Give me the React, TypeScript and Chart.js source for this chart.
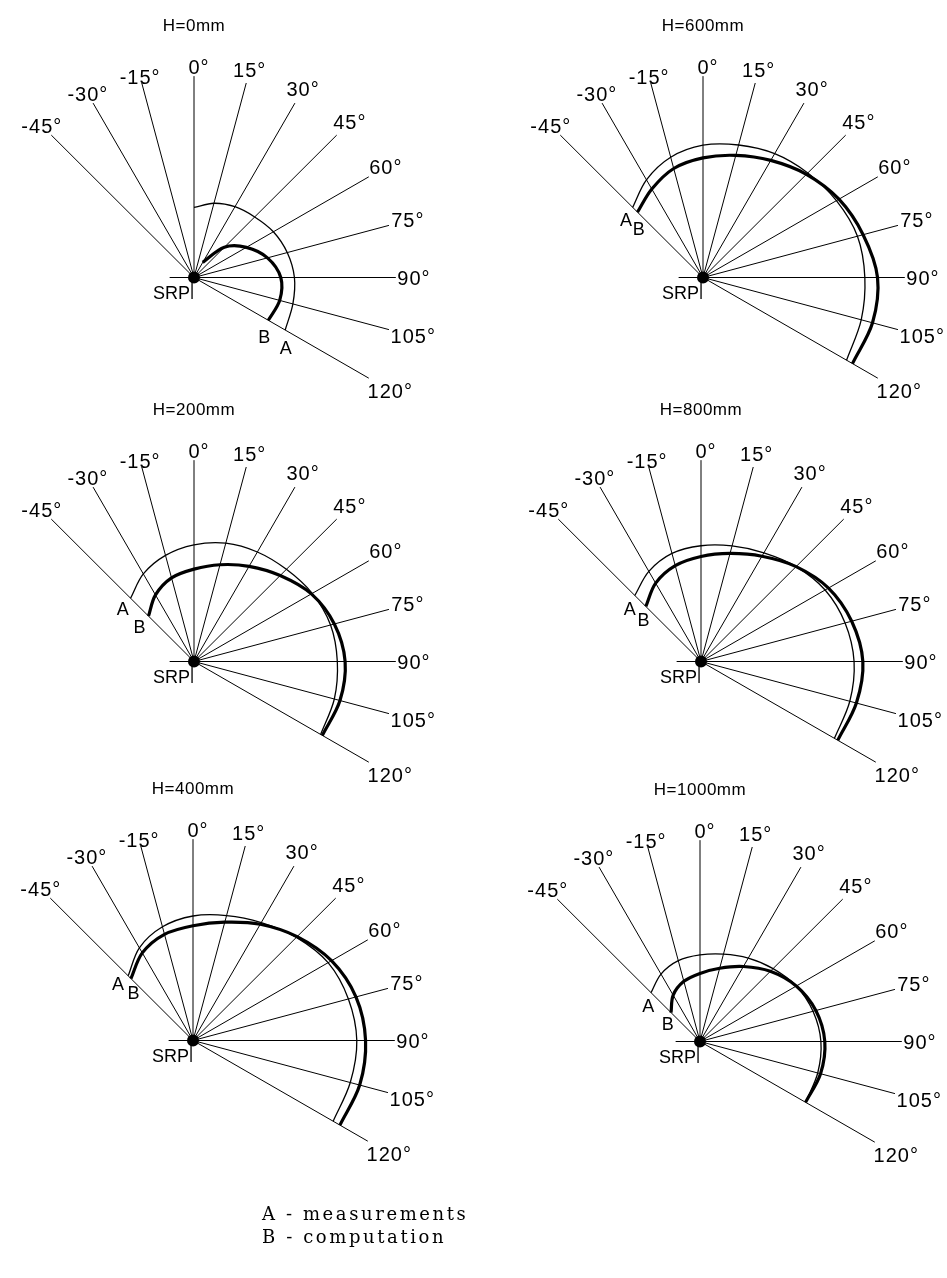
import React, { useEffect, useRef } from "react";
import { Chart, registerables } from "chart.js";

Chart.register(...registerables);

// ---------- data ----------
const ANGLES = [-45, -30, -15, 0, 15, 30, 45, 60, 75, 90, 105, 120];
const ANGLE_LABELS = ["-45°", "-30°", "-15°", "0°", "15°", "30°", "45°", "60°", "75°", "90°", "105°", "120°"];
const HEIGHT_LABELS = ["H=0mm", "H=200mm", "H=400mm", "H=600mm", "H=800mm", "H=1000mm"];
const LEGEND_LINES = ["A - measurements", "B - computation"];

// radial distance along each ray (ray length = 207), null = no value
const A_H0 = [null, null, null, 72, 79, 84, 88, 94, 99, 103, 105, 108];
const B_H0 = [null, null, null, null, null, 18, 44, 62, 78, 89, 91, 88];
const A_H200 = [92, 104, 113, 120, 126, 130, 134, 140, 145, 147, 149, 150];
const B_H200 = [66, 79, 89, 95, 103, 113, 125, 139, 149, 155, 155, 152];
const A_H400 = [94, 110, 121, 128, 133, 140, 150, 160, 165, 168, 167, 166];
const B_H400 = [90, 104, 113, 118, 126, 138, 151, 164, 173, 177, 177, 174];
const A_H600 = [102, 116, 128, 136, 141, 147, 152, 158, 164, 166, 168, 170];
const B_H600 = [95, 105, 116, 123, 130, 139, 150, 161, 170, 179, 180, 177];
const A_H800 = [96, 107, 115, 119, 123, 129, 138, 147, 153, 157, 158, 158];
const B_H800 = [80, 93, 102, 108, 115, 125, 138, 151, 160, 166, 165, 162];
const A_H1000 = [71, 80, 86, 89, 93, 99, 106, 114, 120, 124, 125, 125];
const B_H1000 = [42, 55, 64, 70, 78, 89, 102, 114, 123, 128, 128, 125];

// ---------- layout ----------
const RAY_LENGTH = 207;
const LEFT_EXT = 25;
const CW = 480;
const CH = 440;
const X_MIN = -200;
const Y_MAX = 275;

type PanelCfg = {
  title: number;
  a: (number | null)[];
  b: (number | null)[];
  ox: number;
  oy: number;
  posA: [number, number];
  posB: [number, number];
};

const PANELS: PanelCfg[] = [
  { title: 0, a: A_H0, b: B_H0, ox: 193, oy: 279, posA: [94, -72], posB: [72, -61] },
  { title: 3, a: A_H600, b: B_H600, ox: 702, oy: 279, posA: [-79, 60], posB: [-66, 50] },
  { title: 1, a: A_H200, b: B_H200, ox: 193, oy: 663, posA: [-73, 54], posB: [-56, 36] },
  { title: 4, a: A_H800, b: B_H800, ox: 700, oy: 663, posA: [-73, 55], posB: [-59, 43] },
  { title: 2, a: A_H400, b: B_H400, ox: 192, oy: 1042, posA: [-77, 59], posB: [-61, 49] },
  { title: 5, a: A_H1000, b: B_H1000, ox: 699, oy: 1043, posA: [-53, 37], posB: [-33, 19] },
];

const SANS = '"Liberation Sans", Arial, sans-serif';
const rad = (a: number) => (a * Math.PI) / 180;

function toPoints(vals: (number | null)[]) {
  const pts: { x: number; y: number }[] = [];
  ANGLES.forEach((a, i) => {
    const r = vals[i];
    if (r == null) return;
    pts.push({ x: r * Math.sin(rad(a)), y: r * Math.cos(rad(a)) });
  });
  return pts;
}

function Panel({ cfg }: { cfg: PanelCfg }) {
  const ref = useRef<HTMLCanvasElement>(null);
  useEffect(() => {
    const canvas = ref.current!;
    const rays = ANGLES.map((a) => ({
      data: [
        { x: a === 90 ? -LEFT_EXT : 0, y: 0 },
        { x: RAY_LENGTH * Math.sin(rad(a)), y: RAY_LENGTH * Math.cos(rad(a)) },
      ],
      borderColor: "#000",
      borderWidth: 1,
      pointRadius: 0,
      tension: 0,
      fill: false,
    }));
    const tick = {
      data: [
        { x: -2, y: 0 },
        { x: -2, y: -22 },
      ],
      borderColor: "#000",
      borderWidth: 1.3,
      pointRadius: 0,
      tension: 0,
      fill: false,
    };
    const curveA = {
      data: toPoints(cfg.a),
      borderColor: "#000",
      borderWidth: 1.3,
      pointRadius: 0,
      tension: 0.33,
      fill: false,
    };
    const curveB = {
      data: toPoints(cfg.b),
      borderColor: "#000",
      borderWidth: 3.2,
      pointRadius: 0,
      tension: 0.33,
      fill: false,
    };
    const dot = {
      data: [{ x: 0, y: 0 }],
      showLine: false,
      pointRadius: 6,
      pointBackgroundColor: "#000",
      pointBorderWidth: 0,
      borderColor: "#000",
    };

    const textPlugin = {
      id: "polarText",
      afterDatasetsDraw(chart: any) {
        const ctx = chart.ctx as CanvasRenderingContext2D;
        const xs = chart.scales.x;
        const ys = chart.scales.y;
        const P = (x: number, y: number) => [xs.getPixelForValue(x), ys.getPixelForValue(y)];
        ctx.save();
        ctx.fillStyle = "#000";
        ctx.textBaseline = "alphabetic";
        // ray labels
        ctx.font = `20px ${SANS}`;
        (ctx as any).letterSpacing = "1px";
        ctx.textAlign = "center";
        ANGLES.forEach((a, i) => {
          const txt = ANGLE_LABELS[i];
          const w = ctx.measureText(txt).width;
          const s = Math.sin(rad(a));
          const c = Math.cos(rad(a));
          let d = RAY_LENGTH + 2 + (w / 2) * Math.abs(s) + 7.5 * Math.abs(c);
          if (a < 0) d -= 8;
          const [px, py] = P(d * s, d * c);
          ctx.fillText(txt, px + (a === 0 ? 5 : 0), py + 7);
        });
        // title
        ctx.font = `17px ${SANS}`;
        (ctx as any).letterSpacing = "0.5px";
        const [tx, ty] = P(0, 260);
        ctx.fillText(HEIGHT_LABELS[cfg.title], tx, ty + 6);
        // SRP
        ctx.font = `18px ${SANS}`;
        (ctx as any).letterSpacing = "0px";
        ctx.textAlign = "right";
        const [sx, sy] = P(-4, -22);
        ctx.fillText("SRP", sx, sy);
        // A / B
        ctx.textAlign = "center";
        const [ax, ay] = P(cfg.posA[0], cfg.posA[1]);
        ctx.fillText("A", ax, ay + 6.5);
        const [bx, by] = P(cfg.posB[0], cfg.posB[1]);
        ctx.fillText("B", bx, by + 6.5);
        ctx.restore();
      },
    };

    const chart = new Chart(canvas, {
      type: "line",
      data: { datasets: [...rays, tick, curveA, curveB, dot] as any },
      options: {
        animation: false,
        responsive: false,
        maintainAspectRatio: false,
        events: [],
        layout: { padding: 0 },
        plugins: {
          legend: { display: false },
          tooltip: { enabled: false },
          title: { display: false },
        },
        scales: {
          x: { type: "linear", display: false, min: X_MIN, max: X_MIN + CW },
          y: { type: "linear", display: false, min: Y_MAX - CH, max: Y_MAX },
        },
      },
      plugins: [textPlugin],
    });
    return () => chart.destroy();
  }, [cfg]);
  return (
    <canvas
      ref={ref}
      width={CW}
      height={CH}
      style={{
        position: "absolute",
        left: cfg.ox + X_MIN,
        top: cfg.oy - Y_MAX,
        width: CW,
        height: CH,
      }}
    />
  );
}

export default function App() {
  return (
    <div
      style={{
        position: "absolute",
        left: 0,
        top: 0,
        width: 947,
        height: 1278,
        overflow: "hidden",
        background: "#fff",
      }}
    >
      {PANELS.map((p, i) => (
        <Panel key={i} cfg={p} />
      ))}
      <div
        style={{
          position: "absolute",
          left: 262,
          top: 1202,
          fontFamily: '"DejaVu Serif", "Liberation Serif", serif',
          fontSize: 18,
          lineHeight: "23px",
          letterSpacing: "2.6px",
          color: "#000",
          whiteSpace: "nowrap",
        }}
      >
        {LEGEND_LINES.map((l, i) => (
          <div key={i}>{l}</div>
        ))}
      </div>
    </div>
  );
}
